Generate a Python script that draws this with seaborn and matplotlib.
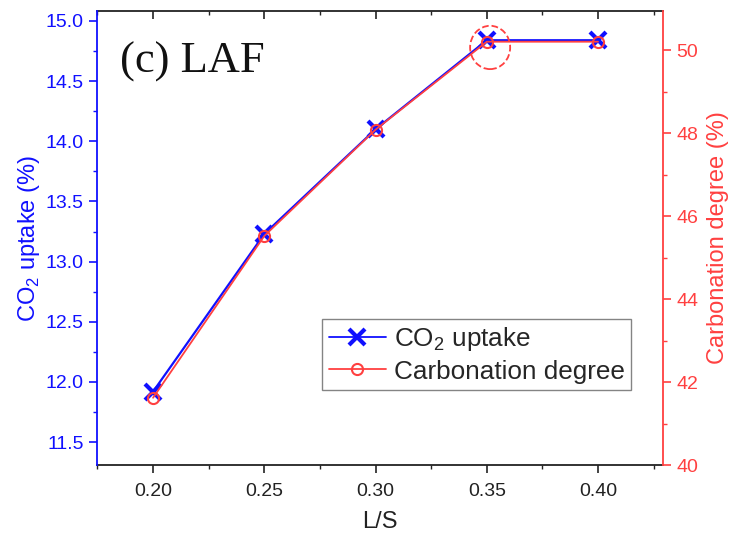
import numpy as np
import pandas as pd
import matplotlib
matplotlib.use('Agg')
import matplotlib.pyplot as plt
import seaborn as sns
from matplotlib.patches import Ellipse
from matplotlib.ticker import MultipleLocator, FormatStrFormatter
from matplotlib.lines import Line2D

# data
ls_ratio = [0.20, 0.25, 0.30, 0.35, 0.40]
co2_uptake = [11.92, 13.23, 14.10, 14.84, 14.84]
carb_degree = [41.62, 45.52, 48.08, 50.20, 50.20]

sns.set_style('ticks')
plt.rcParams['font.family'] = ['Liberation Sans', 'DejaVu Sans']
plt.rcParams['mathtext.fontset'] = 'custom'
plt.rcParams['mathtext.rm'] = 'Liberation Sans'

blue = '#1010ff'
red = '#ff4040'
dark = '#222222'

df = pd.DataFrame({'ls': ls_ratio, 'co2': co2_uptake, 'carb': carb_degree})

fig = plt.figure(figsize=(7.31, 5.39), dpi=100)
ax = fig.add_axes([97 / 731, 1 - 465 / 539, (663 - 97) / 731, (465 - 11) / 539])
ax2 = ax.twinx()

sns.lineplot(data=df, x='ls', y='co2', ax=ax, color=blue, lw=1.6,
             marker='x', markersize=11, markeredgewidth=3, mec=blue, zorder=3)
sns.lineplot(data=df, x='ls', y='carb', ax=ax2, color=red, lw=1.3,
             marker='o', markersize=8, markerfacecolor='none', mec=red,
             markeredgewidth=1.5, zorder=2)

ax.set_xlim(0.1748, 0.4292)
ax.set_ylim(11.31, 15.083)
ax2.set_ylim(40, 50.94)

ax.xaxis.set_major_locator(MultipleLocator(0.05))
ax.xaxis.set_minor_locator(MultipleLocator(0.025))
ax.yaxis.set_major_locator(MultipleLocator(0.5))
ax.yaxis.set_minor_locator(MultipleLocator(0.25))
ax2.yaxis.set_major_locator(MultipleLocator(2))
ax2.yaxis.set_minor_locator(MultipleLocator(1))
ax.xaxis.set_major_formatter(FormatStrFormatter('%.2f'))
ax.yaxis.set_major_formatter(FormatStrFormatter('%.1f'))

ax.tick_params(axis='x', which='major', direction='out', length=6, width=1.2,
               labelsize=14, colors=dark, pad=7)
ax.tick_params(axis='x', which='minor', direction='out', length=3, width=1.0, colors=dark)
ax.tick_params(axis='y', which='major', length=6, width=1.2, labelsize=14, colors=blue)
ax.tick_params(axis='y', which='minor', length=3, width=1.0, colors=blue)
ax2.tick_params(axis='y', which='major', length=6, width=1.2, labelsize=14, colors=red)
ax2.tick_params(axis='y', which='minor', length=3, width=1.0, colors=red)

# mirrored ticks on the top spine, pointing inward
top = ax.secondary_xaxis('top')
top.xaxis.set_major_locator(MultipleLocator(0.05))
top.xaxis.set_minor_locator(MultipleLocator(0.025))
top.tick_params(which='major', direction='in', length=6, width=1.2, labeltop=False, colors=dark)
top.tick_params(which='minor', direction='in', length=3, width=1.0, colors=dark)
top.spines['top'].set_color(dark)
top.spines['top'].set_linewidth(1.3)

ax.spines['bottom'].set_color(dark)
ax.spines['bottom'].set_linewidth(1.3)
ax2.spines['left'].set_color(blue)
ax2.spines['left'].set_linewidth(1.3)
ax2.spines['right'].set_color(red)
ax2.spines['right'].set_linewidth(1.3)
ax2.spines['top'].set_visible(False)
ax2.spines['bottom'].set_visible(False)
for s in ['left', 'right', 'top']:
    ax.spines[s].set_visible(False)

ax.set_xlabel('L/S', fontsize=17, color=dark, labelpad=8)
ax.set_ylabel('CO$_2$ uptake (%)', fontsize=17, color=blue, labelpad=3)
ax2.set_ylabel('Carbonation degree (%)', fontsize=17, color=red, labelpad=6)

ax.text(0.04, 0.888, '(c) LAF', transform=ax.transAxes, fontsize=32,
        family='Liberation Serif', va='center', ha='left', color='#111111')

# dashed circle highlighting the plateau start
circ = Ellipse((ls_ratio[3] + 0.0015, co2_uptake[3] - 0.06), width=0.018, height=0.36,
               fill=False, ls='--', lw=1.3, ec=red, zorder=4)
ax.add_patch(circ)

handles = [
    Line2D([], [], color=blue, lw=1.3, marker='x', markersize=12, markeredgewidth=3),
    Line2D([], [], color=red, lw=1.3, marker='o', markersize=8,
           markerfacecolor='none', markeredgewidth=1.5),
]
leg = ax.legend(handles, ['CO$_2$ uptake', 'Carbonation degree'],
                loc='lower left', bbox_to_anchor=(0.3975, 0.165), borderaxespad=0,
                fontsize=18.8, frameon=True, fancybox=False, edgecolor='#666666',
                handlelength=2.2, handletextpad=0.3, borderpad=0.25, labelspacing=0.25)
leg.get_frame().set_linewidth(1.0)
if ax2.get_legend() is not None:
    ax2.get_legend().remove()

fig.savefig('out.png', dpi=100)
